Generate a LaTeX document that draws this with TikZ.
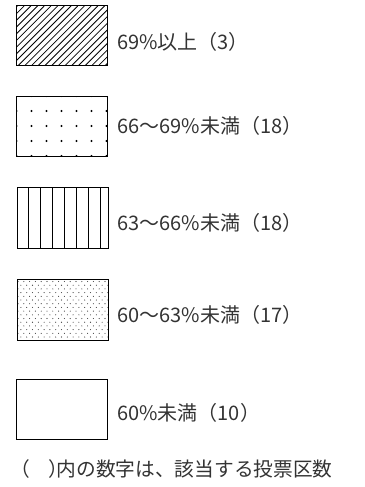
\documentclass[tikz,border=0pt]{standalone}
\usepackage{fontspec}
\newfontfamily\jp{Noto Sans CJK JP}
\begin{document}
\begin{tikzpicture}[x=1pt,y=-1pt,
  box/.style={draw=black, line width=1pt, minimum width=91pt, minimum height=60pt, anchor=north west, inner sep=0pt, outer sep=0pt},
  lbl/.style={anchor=base west, inner sep=0pt, font=\jp\fontsize{20}{20}\selectfont, text=black!80},
  hatch/.style={line width=0.8pt},
  vline/.style={line width=0.8pt}]
\useasboundingbox (0,0) rectangle (364,487);
% patterns
\begin{scope}
  \clip (16,6) rectangle (107,66);
  \foreach \x in {-56,-49.3,...,107} \draw[hatch] (\x,66) -- ++(60,-60);
\end{scope}
\begin{scope}
  \clip (16,96) rectangle (107,156);
  \foreach \i in {0,...,6} \foreach \j in {0,...,4} \fill (16.5+15*\i,96+15*\j) circle (1.1pt);
\end{scope}
\foreach \x in {28.5,40.5,52,64,76,88,100} \draw[vline] (\x,187) -- (\x,248);
\begin{scope}
  \clip (17,279) rectangle (108,340);
  \foreach \j in {0,...,15} {
    \foreach \i in {0,...,15} {
      \pgfmathsetmacro\xx{18+5.8*\i+mod(\j,2)*2.9}
      \pgfmathsetmacro\yy{281.5+3.7*\j}
      \fill[black!80] (\xx,\yy) circle (0.55pt);
    }
  }
\end{scope}
% boxes
\node[box] (b1) at (16,6) {};
\node[box] (b2) at (16,96) {};
\node[box, minimum height=61pt] (b3) at (17,187) {};
\node[box, minimum height=61pt] (b4) at (17,279) {};
\node[box] (b5) at (16,379) {};
% labels
\node[lbl] (t1) at (117,50) {69\%以上（3）};
\node[lbl] (t2) at (117,133) {66～69\%未満（18）};
\node[lbl] (t3) at (117,230) {63～66\%未満（18）};
\node[lbl] (t4) at (117,322) {60～63\%未満（17）};
\node[lbl] (t5) at (117,420) {60\%未満（10）};
\node[lbl, font=\jp\fontsize{19.7}{20}\selectfont] (note) at (10,476) {（\hspace{18.3pt}）\hspace{-11.2pt}内の数字は、該当する投票区数};
\end{tikzpicture}
\end{document}
